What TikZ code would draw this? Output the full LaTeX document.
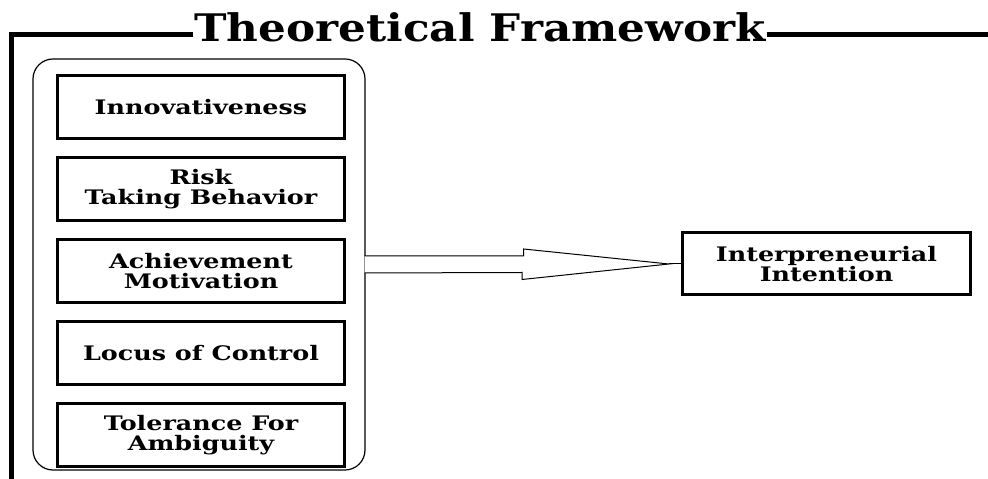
\documentclass[tikz,border=0pt]{standalone}
\usepackage{fontspec}
\setmainfont{DejaVu Serif}
\newfontfamily\boxfont[FakeStretch=1.27]{DejaVu Serif}
\newfontfamily\headfont[FakeStretch=1.15]{DejaVu Serif}
\usetikzlibrary{positioning}
\tikzset{>=stealth,
  trait/.style={draw, line width=3pt, minimum width=287pt, minimum height=63pt,
    align=center, font=\boxfont\fontsize{20}{20}\selectfont\bfseries},
  rule/.style={line width=5pt}}

\begin{document}
\begin{tikzpicture}[x=1pt, y=1pt]
    \useasboundingbox (0,0) rectangle (988,479);
    \node[draw, line width=1.2pt, rounded corners=20pt, minimum width=332pt,
      minimum height=411pt] (traits) at (199,214.5) {};
    \node[trait] (inno) at (201,372) {Innovativeness};
    \node[trait, below=16pt of inno] (risk) {Risk\\Taking Behavior};
    \node[trait, below=16pt of risk] (achieve) {Achievement\\Motivation};
    \node[trait, below=16pt of achieve] (locus) {Locus of Control};
    \node[trait, below=16pt of locus] (ambig) {Tolerance For\\Ambiguity};
    \node[trait, minimum width=288pt, minimum height=62pt] (intention) at (826.5,215) {Interpreneurial\\Intention};
    \node[font=\headfont\fontsize{38}{40}\selectfont\bfseries, inner sep=1pt] (title) at (480,452) {Theoretical Framework};
    \coordinate (top) at (0,444);
    \draw[rule] (title.west |- top) -| (11.5,0);
    \draw[rule] (title.east |- top) -- (988,444);
    \coordinate (tip) at ([xshift=-12pt]intention.west);
    \draw[line width=1pt, fill=white] ([xshift=-1pt, yshift=8.5pt]traits.east) -- ++(159,0) -- ++(0,7)
      -- (tip) -- ++(-147,-15.5) -- ++(0,7) -- ([xshift=-1pt, yshift=-8.5pt]traits.east);
    \draw[line width=1pt] (tip) -- (intention.west);
\end{tikzpicture}
\end{document}
